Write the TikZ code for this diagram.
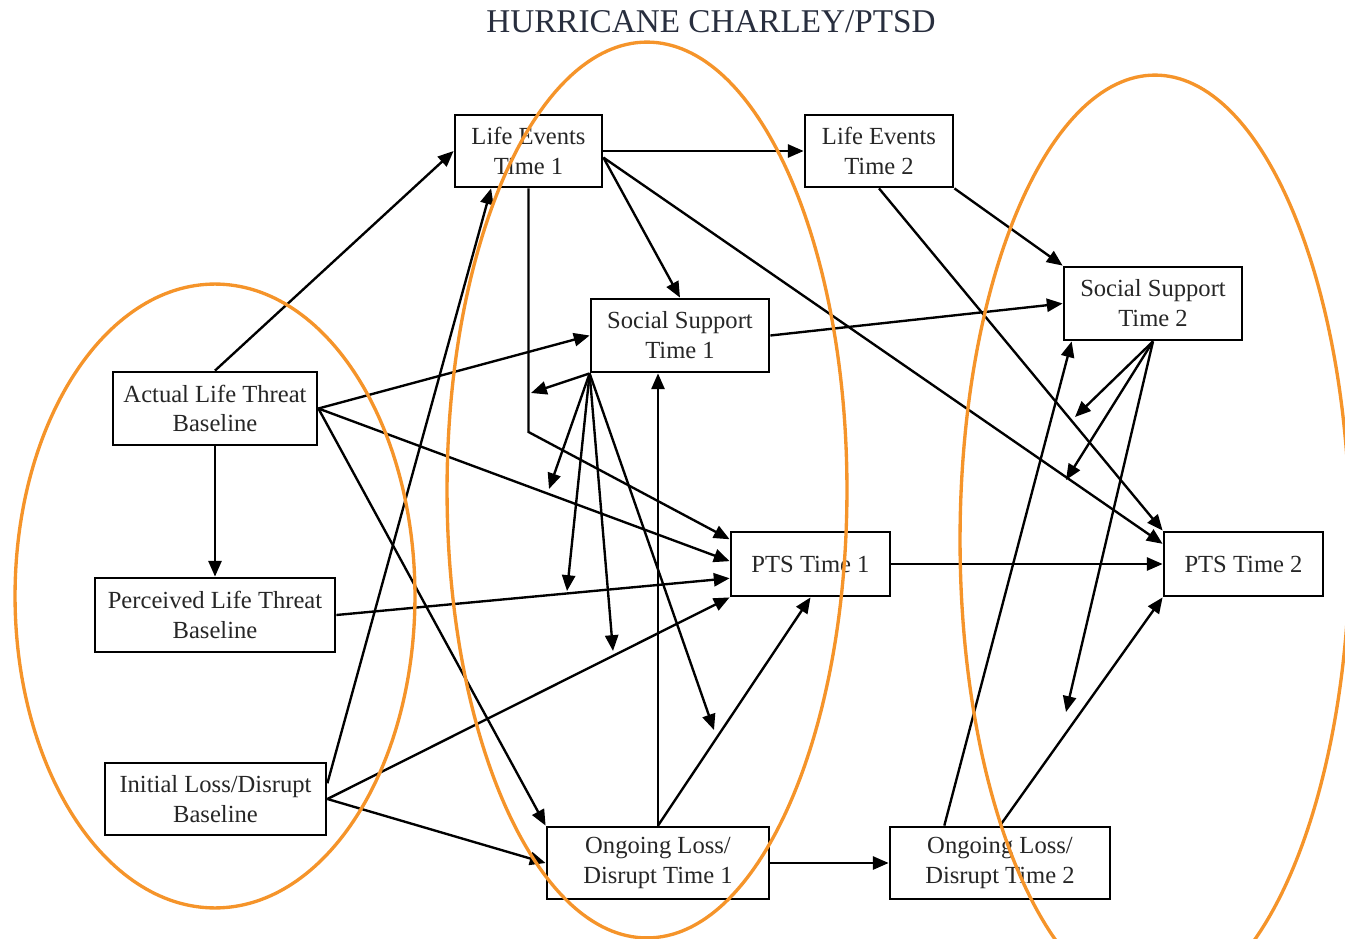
\documentclass[tikz,border=0pt]{standalone}
\usepackage{fontspec}
\setmainfont{Liberation Serif}
\usetikzlibrary{arrows.meta,calc}
\definecolor{orng}{RGB}{245,148,42}
\definecolor{ttl}{RGB}{40,46,62}
\begin{document}
\begin{tikzpicture}[x=0.02cm,y=-0.02cm,
  box/.style={draw,line width=1.6pt,inner sep=0pt,align=center,
              font=\fontsize{14}{17}\selectfont,text=black!85},
  arr/.style={line width=1.35pt,-{Triangle[length=9pt,width=7.5pt]}},
  ring/.style={draw=orng,line width=1.9pt}]
\useasboundingbox (0,0) rectangle (1345,939);
\node[font=\fontsize{18.9}{21}\selectfont,text=ttl,anchor=base] (title) at (711,33) {HURRICANE CHARLEY/PTSD};

\node[box,minimum width=2.94cm,minimum height=1.44cm] (LE1) at (528.5,151) {Life Events\\Time 1};
\node[box,minimum width=2.96cm,minimum height=1.44cm] (LE2) at (879,151) {Life Events\\Time 2};
\node[box,minimum width=3.56cm,minimum height=1.46cm] (SS1) at (680,335.5) {Social Support\\Time 1};
\node[box,minimum width=3.56cm,minimum height=1.46cm] (SS2) at (1153,303.5) {Social Support\\Time 2};
\node[box,minimum width=4.08cm,minimum height=1.46cm] (ALT) at (215,408.5) {Actual Life Threat\\Baseline};
\node[box,minimum width=4.8cm,minimum height=1.48cm] (PLT) at (215,615) {Perceived Life Threat\\Baseline};
\node[box,minimum width=4.42cm,minimum height=1.44cm] (ILD) at (215.5,799) {Initial Loss/Disrupt\\Baseline};
\node[box,minimum width=3.18cm,minimum height=1.28cm] (PTS1) at (810.5,564) {PTS Time 1};
\node[box,minimum width=3.18cm,minimum height=1.28cm] (PTS2) at (1243.5,564) {PTS Time 2};
\node[box,minimum width=4.44cm,minimum height=1.44cm] (OL1) at (658,863) {Ongoing Loss/\\Disrupt Time 1};
\node[box,minimum width=4.4cm,minimum height=1.44cm] (OL2) at (1000,863) {Ongoing Loss/\\Disrupt Time 2};

\coordinate (bend1) at (528.5,432);
\coordinate (m1) at (531,393);
\coordinate (m2) at (549,489);
\coordinate (m3) at (567,591);
\coordinate (m4) at (613,651);
\coordinate (m5) at (714,730);
\coordinate (n1) at (1075,417);
\coordinate (n2) at (1066,480);
\coordinate (n3) at (1066,712);

% baseline arrows
\draw[arr] (ALT.north) -- (LE1.west);
\draw[arr] (ILD.8) -- (LE1.225);
\draw[arr] (ALT.east) -- (SS1.west);
\draw[arr] (ALT.east) -- (PTS1.178);
\draw[arr] (ALT.east) -- (OL1.north west);
\draw[arr] (ALT.south) -- (PLT.north);
\draw[arr] (PLT.east) -- (PTS1.190);
\draw[arr] (ILD.east) -- (PTS1.south west);
\draw[arr] (ILD.east) -- (OL1.west);

% time 1 arrows
\draw[arr] (LE1.south) -- (bend1) -- (PTS1.163);
\draw[arr] (LE1.east) -- (LE2.west);
\draw[arr] (LE1.-5) -- (SS1.north);
\draw[arr] (LE1.-5) -- (PTS2.166.6);
\draw[arr] (OL1.north) -- (OL1.north |- SS1.south);
\draw[arr] (OL1.north) -- (PTS1.south);
\draw[arr] (OL1.east) -- (OL2.west);
\draw[arr] (PTS1.east) -- (PTS2.west);
\draw[arr] (SS1.east) -- (SS2.west);

% moderation from SS1
\foreach \t in {m1,m2,m3,m4,m5} \draw[arr] (SS1.south west) -- (\t);

% time 2 arrows
\draw[arr] (LE2.south) -- (PTS2.north west);
\draw[arr] (LE2.south east) -- (SS2.north west);
\draw[arr] ($(OL2.north west)!0.25!(OL2.north east)$) -- ($(SS2.south west)!0.05!(SS2.south east)$);
\draw[arr] (OL2.north) -- (PTS2.south west);
\foreach \t in {n1,n2,n3} \draw[arr] (SS2.south) -- (\t);

% orange ellipses
\begin{scope}
\clip (0,0) rectangle (1345,939);
\draw[ring] (215,596) ellipse [x radius=4cm,y radius=6.24cm];
\draw[ring] (647,490) ellipse [x radius=4cm,y radius=8.96cm];
\draw[ring] (1155,540) ellipse [x radius=3.9cm,y radius=9.3cm];
\end{scope}
\end{tikzpicture}
\end{document}
